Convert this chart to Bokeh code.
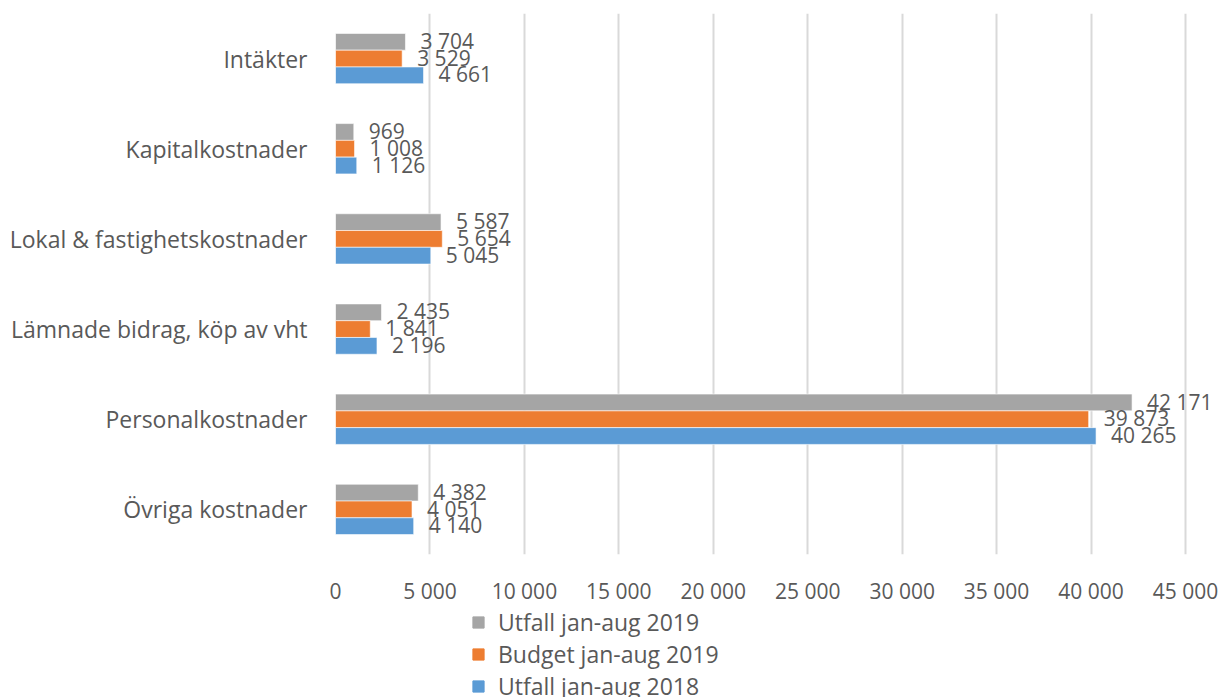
from bokeh.plotting import figure
from bokeh.layouts import column
from bokeh.models import ColumnDataSource, FactorRange, Range1d, Legend, LegendItem, FixedTicker
from bokeh.transform import dodge
from bokeh.core.properties import value
from bokeh.embed import file_html
from bokeh.resources import INLINE

categories = ["Intäkter", "Kapitalkostnader", "Lokal & fastighetskostnader",
              "Lämnade bidrag, köp av vht", "Personalkostnader", "Övriga kostnader"]
utfall_2019 = [3704, 969, 5587, 2435, 42171, 4382]
budget_2019 = [3529, 1008, 5654, 1841, 39873, 4051]
utfall_2018 = [4661, 1126, 5045, 2196, 40265, 4140]
series_names = ["Utfall jan-aug 2019", "Budget jan-aug 2019", "Utfall jan-aug 2018"]
colors = ["#A5A5A5", "#ED7D31", "#5B9BD5"]
x_ticks = [0, 5000, 10000, 15000, 20000, 25000, 30000, 35000, 40000, 45000]

FONT = "Open Sans"
TXT = "#595959"
W = 1222
FRAME_L = 335
PX_PER_UNIT = 850 / 45000.0

def fmt(v):
    return f"{v:,}".replace(",", " ")

x_end = (W - FRAME_L) / PX_PER_UNIT

p = figure(width=W, height=607, output_backend="svg", toolbar_location=None,
           y_range=FactorRange(factors=list(reversed(categories)), range_padding=0),
           x_range=Range1d(0, x_end),
           min_border_left=FRAME_L, min_border_right=0, min_border_top=13, min_border_bottom=45)
p.outline_line_color = None

bar_h = 0.186
offsets = [bar_h, 0.0, -bar_h]
series = [utfall_2019, budget_2019, utfall_2018]
for vals, off, col in zip(series, offsets, colors):
    src = ColumnDataSource(dict(cat=categories, val=vals, lab=[fmt(v) for v in vals]))
    p.hbar(y=dodge("cat", off, range=p.y_range), right="val", left=0, height=bar_h,
           source=src, fill_color=col, line_color="white", line_width=0.6)
    p.text(x="val", y=dodge("cat", off + 0.01, range=p.y_range), text="lab", source=src,
           x_offset=15, text_align="left", text_baseline="middle",
           text_font=value(FONT), text_font_size="21px", text_color=TXT)

p.xaxis.ticker = FixedTicker(ticks=x_ticks)
p.xaxis.major_label_overrides = {t: fmt(t) for t in x_ticks}
p.xaxis.axis_line_color = None
p.xaxis.major_tick_line_color = None
p.xaxis.minor_tick_line_color = None
p.xaxis.major_label_standoff = 16
p.xaxis.major_label_text_font = FONT
p.xaxis.major_label_text_font_size = "21px"
p.xaxis.major_label_text_color = TXT

p.yaxis.axis_line_color = None
p.yaxis.major_tick_line_color = None
p.yaxis.minor_tick_line_color = None
p.yaxis.major_label_standoff = 22
p.yaxis.major_label_text_font = FONT
p.yaxis.major_label_text_font_size = "23px"
p.yaxis.major_label_text_color = TXT

p.xgrid.grid_line_color = "#D9D9D9"
p.xgrid.grid_line_width = 2
p.ygrid.grid_line_color = None

# legend panel below the chart
lg = figure(width=W, height=90, output_backend="svg", toolbar_location=None,
            x_range=Range1d(0, 1), y_range=Range1d(0, 1),
            min_border_left=0, min_border_right=0, min_border_top=0, min_border_bottom=0)
lg.outline_line_color = None
lg.axis.visible = False
lg.grid.visible = False
items = []
for n, col in zip(series_names, colors):
    r = lg.rect(x=[-5], y=[-5], width=1, height=1, fill_color=col, line_color=col)
    items.append(LegendItem(label=n, renderers=[r]))
legend = Legend(items=items, orientation="vertical", location=(136, -5),
                label_text_font=FONT, label_text_font_size="23px", label_text_color=TXT,
                glyph_width=14, glyph_height=14, spacing=0, padding=0, margin=0,
                border_line_color=None, background_fill_alpha=0, label_standoff=13)
lg.add_layout(legend, "center")

layout = column(p, lg, spacing=0)
open("out.html", "w").write(file_html(layout, INLINE))
